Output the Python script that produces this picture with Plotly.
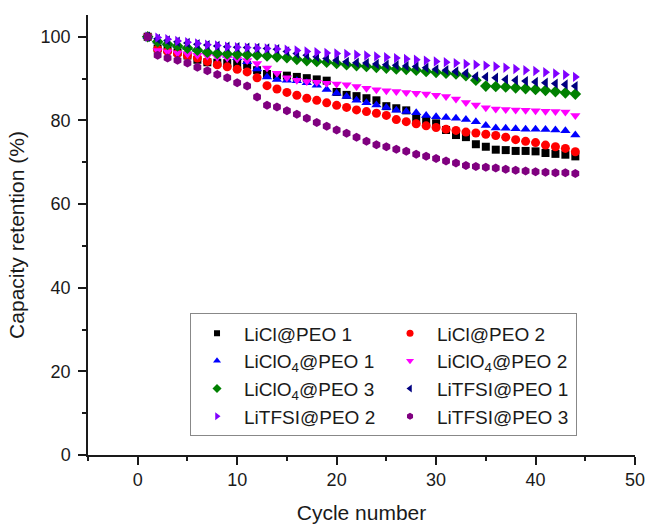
import plotly.graph_objects as go

cycles = list(range(1, 45))

licl_peo1 = [100, 97.2, 97.0, 96.3, 95.5, 94.5, 93.9, 93.8, 93.7, 93.5, 93.2, 92.0, 91.1, 90.8, 90.7,
             90.4, 90.1, 89.8, 89.5, 86.8, 86.1, 85.8, 85.3, 84.8, 83.4, 82.9, 82.4, 80.6, 80.0, 79.3,
             77.7, 76.5, 76.0, 74.3, 73.7, 73.0, 72.9, 72.7, 72.7, 72.6, 72.2, 72.0, 71.8, 71.4]
licl_peo2 = [100, 97.0, 96.5, 96.0, 95.5, 94.9, 94.1, 93.3, 92.8, 92.2, 91.6, 90.2, 88.3, 87.5, 86.7,
             86.0, 85.3, 84.8, 84.2, 83.6, 83.1, 82.5, 82.1, 81.7, 81.2, 80.2, 79.7, 79.2, 78.7, 78.3,
             77.9, 77.6, 77.2, 77.0, 76.7, 76.4, 76.0, 75.4, 75.0, 74.7, 74.1, 73.7, 73.3, 72.5]
liclo4_peo1 = [100, 98.9, 98.3, 97.9, 97.4, 96.9, 96.4, 96.0, 95.6, 95.0, 94.0, 92.3, 90.4, 89.8, 89.6,
               89.5, 89.0, 88.4, 87.4, 86.5, 85.7, 84.8, 84.2, 83.7, 83.1, 82.4, 82.1, 81.8, 81.2, 80.9,
               80.7, 80.5, 80.2, 79.7, 78.8, 78.2, 78.1, 78.0, 77.9, 77.9, 77.8, 77.7, 77.5, 76.5]
liclo4_peo2 = [100, 96.7, 96.4, 96.1, 95.9, 95.6, 95.4, 95.1, 94.9, 94.7, 94.3, 93.6, 92.5, 91.3, 90.2,
               89.6, 89.3, 89.1, 88.9, 88.7, 88.5, 88.1, 87.7, 87.3, 87.1, 86.9, 86.7, 86.5, 86.3, 86.0,
               85.7, 85.1, 84.3, 83.7, 83.0, 82.7, 82.6, 82.5, 82.4, 82.3, 82.2, 82.1, 82.0, 81.2]
liclo4_peo3 = [100, 98.8, 98.2, 97.8, 97.3, 96.8, 96.3, 96.0, 95.9, 95.8, 95.7, 95.6, 95.4, 95.2, 95.0,
               94.6, 94.3, 94.1, 93.9, 93.6, 93.3, 93.1, 92.9, 92.7, 92.5, 92.3, 92.2, 92.0, 91.7, 91.5,
               91.3, 91.1, 90.7, 89.6, 88.2, 88.1, 88.0, 87.8, 87.6, 87.4, 87.2, 86.9, 86.6, 86.3]
litfsi_peo1 = [100, 99.5, 99.1, 98.8, 98.5, 98.2, 98.0, 97.8, 97.6, 97.5, 97.4, 97.3, 97.2, 97.0, 96.5,
               96.0, 95.6, 95.2, 94.8, 94.4, 94.0, 93.8, 93.7, 93.5, 93.3, 93.2, 93.0, 92.9, 92.6, 92.2,
               92.0, 91.7, 91.3, 90.5, 90.4, 90.2, 89.8, 89.6, 89.4, 89.2, 89.0, 88.8, 88.6, 88.2]
litfsi_peo2 = [100, 99.8, 99.4, 99.0, 98.7, 98.4, 98.1, 97.9, 97.6, 97.5, 97.4, 97.3, 97.2, 97.1, 96.9,
               96.7, 96.5, 96.3, 96.1, 96.0, 95.9, 95.7, 95.5, 95.3, 95.1, 94.9, 94.7, 94.5, 94.3, 94.1,
               93.9, 93.7, 93.5, 93.3, 93.1, 92.9, 92.6, 92.3, 92.0, 91.8, 91.5, 91.2, 90.9, 90.4]
litfsi_peo3 = [100, 95.6, 94.9, 94.4, 93.7, 92.7, 91.9, 91.0, 90.2, 89.0, 88.2, 85.6, 83.6, 83.2, 82.3,
               81.5, 80.5, 79.5, 78.6, 77.7, 76.9, 76.0, 75.0, 74.2, 73.7, 73.1, 72.6, 71.9, 71.4, 70.9,
               70.3, 69.8, 69.2, 69.0, 68.8, 68.6, 68.3, 68.1, 67.9, 67.7, 67.6, 67.5, 67.5, 67.3]

series_names = ["LiCl@PEO 1", "LiCl@PEO 2", "LiClO<sub>4</sub>@PEO 1", "LiClO<sub>4</sub>@PEO 2",
                "LiClO<sub>4</sub>@PEO 3", "LiTFSI@PEO 1", "LiTFSI@PEO 2", "LiTFSI@PEO 3"]
series_values = [licl_peo1, licl_peo2, liclo4_peo1, liclo4_peo2,
                 liclo4_peo3, litfsi_peo1, litfsi_peo2, litfsi_peo3]
series_symbols = ["square", "circle", "triangle-up", "triangle-down",
                  "diamond", "triangle-left", "triangle-right", "hexagon"]
series_colors = ["#000000", "#ff0000", "#0000ff", "#ff00ff",
                 "#008000", "#000080", "#8000ff", "#800080"]
series_sizes = [8, 9, 9, 9, 9, 9, 9, 9]
legend_sizes = [6, 7, 7, 7, 7, 7, 7, 7]

FONT = "Liberation Sans, Arial, sans-serif"
INK = "#1a1a1a"

fig = go.Figure()
for name, vals, sym, col, sz in zip(series_names, series_values, series_symbols, series_colors, series_sizes):
    fig.add_trace(go.Scatter(
        x=cycles, y=vals, mode="markers", name=name, showlegend=False, legendgroup=name,
        marker=dict(symbol=sym, color=col, size=sz, line=dict(width=0)),
    ))
# legend-only entries with the smaller symbols of the reference legend
for name, sym, col, sz in zip(series_names, series_symbols, series_colors, legend_sizes):
    fig.add_trace(go.Scatter(
        x=[None], y=[None], mode="markers", name=name, legendgroup=name,
        marker=dict(symbol=sym, color=col, size=sz, line=dict(width=0)),
    ))

axis_font = dict(family=FONT, size=18, color=INK)
fig.update_layout(
    width=646, height=524,
    margin=dict(l=88, r=11, t=15, b=69, autoexpand=False),
    plot_bgcolor="white", paper_bgcolor="white",
    font=dict(family=FONT, color=INK),
    legend=dict(
        orientation="h", x=0.1865, y=0.322, xanchor="left", yanchor="top",
        entrywidth=134, entrywidthmode="pixels", itemwidth=44,
        bordercolor="#888888", borderwidth=1, bgcolor="white",
        font=dict(family=FONT, size=19, color=INK),
        tracegroupgap=0,
    ),
    xaxis=dict(
        range=[-5, 50], tick0=0, dtick=10, showgrid=False, zeroline=False, automargin=False,
        showline=True, linecolor=INK, linewidth=1.5,
        ticks="outside", ticklen=8, tickwidth=1.5, tickcolor=INK,
        minor=dict(dtick=5, tick0=0, ticks="outside", ticklen=4, tickwidth=1.5, tickcolor=INK),
        tickfont=axis_font,
        title=dict(text="Cycle number", font=dict(family=FONT, size=21, color=INK), standoff=16),
    ),
    yaxis=dict(
        range=[0, 105.2], tick0=0, dtick=20, showgrid=False, zeroline=False, automargin=False,
        showline=True, linecolor=INK, linewidth=1.5,
        ticks="outside", ticklen=8, tickwidth=1.5, tickcolor=INK,
        minor=dict(dtick=10, tick0=0, ticks="outside", ticklen=4, tickwidth=1.5, tickcolor=INK),
        tickfont=axis_font, ticklabelstandoff=4,
        title=dict(text="Capacity retention (%)", font=dict(family=FONT, size=21, color=INK), standoff=10),
    ),
)

fig.write_html("out.html", config={"displayModeBar": False},
               post_script="document.body.style.margin='0';")
